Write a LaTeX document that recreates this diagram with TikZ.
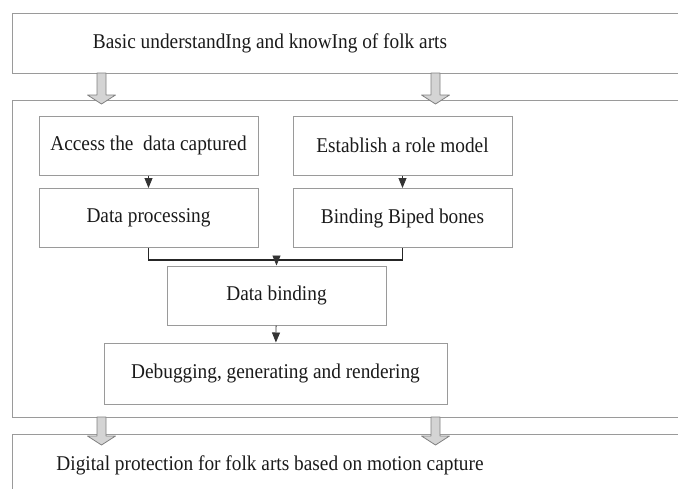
\documentclass[tikz,border=0pt]{standalone}
\usepackage{fontspec}
\setmainfont{Liberation Serif}[FakeStretch=0.92]
\usetikzlibrary{arrows.meta,calc}
\definecolor{frameline}{HTML}{9A9A9A}
\definecolor{arrowfill}{HTML}{D4D4D4}
\definecolor{txt}{HTML}{1A1A1A}

% big hollow arrow from #1 (top centre) to #2 (tip)
\newcommand{\hollowarrow}[2]{%
  \draw[hollow] ($(#1)+(-4.5,0)$) -- ($(#2)+(-4.5,-9)$) -- ($(#2)+(-14,-9)$) -- (#2)
    -- ($(#2)+(14,-9)$) -- ($(#2)+(4.5,-9)$) -- ($(#1)+(4.5,0)$) -- cycle;}

\begin{document}
\begin{tikzpicture}[
  x=1pt, y=-1pt,
  >=Triangle,
  frame/.style={draw=frameline, line width=1.1pt, anchor=north west, minimum width=700pt, inner sep=0pt},
  stepbox/.style={draw=frameline, line width=1pt, minimum width=219pt, minimum height=59pt, inner sep=0pt, font=\fontsize{21}{25}\selectfont, text=txt},
  title/.style={font=\fontsize{21}{25}\selectfont, text=txt, inner sep=0pt},
  hollow/.style={draw=black!50, fill=arrowfill, line width=0.8pt, line join=round},
  tip/.style={-{Triangle[width=8pt,length=10pt]}, line width=0.8pt, color=black!80},
  merge/.style={line width=1.3pt, color=black!85},
]
\clip (0,0) rectangle (678,488);

% outer frames
\node[frame, minimum height=60pt] (basic) at (12,13) {};
\node[title] (basictxt) at (270,43) {Basic understandIng and knowIng of folk arts};
\node[frame, minimum height=317pt] (pipeline) at (12,100) {};
\node[frame, minimum height=100pt] (protect) at (12,434) {};
\node[title] (protecttxt) at (270,465) {Digital protection for folk arts based on motion capture};

% steps
\node[stepbox] (access) at (148.5,145.5) {Access the\ \ data captured};
\node[stepbox] (establish) at (402.5,145.5) {Establish a role model};
\node[stepbox] (process) at (148.5,218) {Data processing};
\node[stepbox] (biped) at (402.5,218) {Binding Biped bones};
\node[stepbox] (binding) at (276.5,295.5) {Data binding};
\node[stepbox, minimum width=343pt, minimum height=61pt] (debug) at (275.5,373.5) {Debugging, generating and rendering};

% hollow arrows between frames
\coordinate (inAs) at (101.5,73);
\coordinate (inAt) at (101.5,104);
\coordinate (inBs) at (435.5,73);
\coordinate (inBt) at (435.5,104);
\coordinate (outAs) at (101.5,417);
\coordinate (outAt) at (101.5,445);
\coordinate (outBs) at (435.5,417);
\coordinate (outBt) at (435.5,445);
\hollowarrow{inAs}{inAt}
\hollowarrow{inBs}{inBt}
\hollowarrow{outAs}{outAt}
\hollowarrow{outBs}{outBt}

\coordinate (join) at (276.5,258);

\draw[tip] (access) -- (process);
\draw[tip] (establish) -- (biped);
\draw[merge] (process.south) -- ++(0,12) -| (biped.south);
\draw[tip] (join) -- (binding.north);
\draw[tip] (binding) -- (debug);

\end{tikzpicture}
\end{document}
